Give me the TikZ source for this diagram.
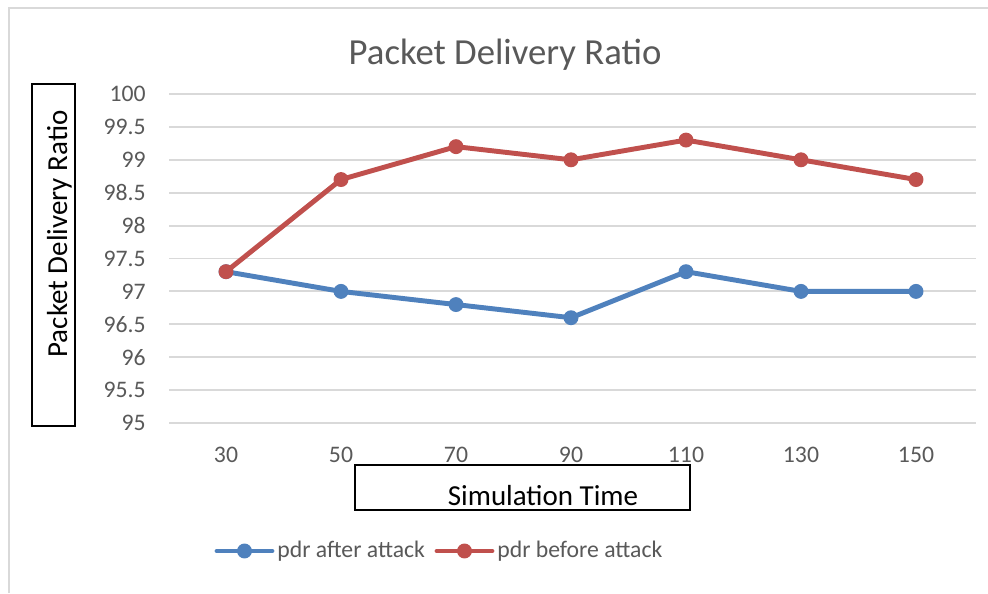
\documentclass[tikz,border=0pt]{standalone}
\usepackage{fontspec}
\setmainfont{Carlito}
\usepackage{tikz}
\usetikzlibrary{positioning}
\usetikzlibrary{calc}
\tikzstyle{dot}=[circle,inner sep=0pt,minimum size=8.5pt]
\tikzstyle{framebox}=[draw=black,line width=0.85pt]

\begin{document}
\begin{tikzpicture}[
  x=0.02cm,y=-0.02cm,
  grid line/.style={draw=light gray,line width=1.1pt},
  tick label/.style={text=dark gray,inner sep=0pt,font=\fontsize{13.5}{16}\selectfont},
  axis title/.style={inner sep=0pt,font=\fontsize{16.5}{20}\selectfont},
  series/.style={line width=2.8pt,line join=round},
  legend line/.style={line width=2.8pt,line cap=round},
]
  \definecolor{light gray}{HTML}{D9D9D9}
  \definecolor{dark gray}{HTML}{595959}
  \definecolor{pdr blue}{HTML}{4F81BD}
  \definecolor{pdr red}{HTML}{C0504D}
  \fill[white] (0,0) rectangle (988,593);
  \useasboundingbox (0,0) rectangle (988,593);
  % chart area border
  \draw[light gray,line width=0.8pt] (9,593) -- (9,8) -- (988,8);

  \node[text=dark gray,anchor=base,inner sep=0pt,font=\fontsize{20.9}{25}\selectfont] (title) at (505,64) {Packet Delivery Ratio};

  % grid and value axis
  \foreach \v [count=\i from 0] in {100,99.5,99,98.5,98,97.5,97,96.5,96,95.5,95} {
    \draw[grid line] (169,{94+\i*32.9}) -- (976,{94+\i*32.9});
    \node[tick label,anchor=east] (yt\i) at (146,{94+\i*32.9}) {\v};
  }
  \foreach \t [count=\i] in {30,50,70,90,110,130,150}
    \node[tick label,anchor=base] (xt\i) at ({111+115*\i},462) {\t};

  % data points
  \foreach \v [count=\i] in {97.3,97,96.8,96.6,97.3,97,97}
    \coordinate (a\i) at ({111+115*\i},{94+(100-\v)*65.8});
  \foreach \v [count=\i] in {97.3,98.7,99.2,99,99.3,99,98.7}
    \coordinate (b\i) at ({111+115*\i},{94+(100-\v)*65.8});

  \draw[series,pdr blue] (a1) -- (a2) -- (a3) -- (a4) -- (a5) -- (a6) -- (a7);
  \foreach \i in {1,...,7}
    \node[dot,fill=pdr blue] (pa\i) at (a\i) {};
  \draw[series,pdr red] (b1) -- (b2) -- (b3) -- (b4) -- (b5) -- (b6) -- (b7);
  \foreach \i in {1,...,7}
    \node[dot,fill=pdr red] (pb\i) at (b\i) {};

  % axis titles
  \draw[framebox] (32,84) rectangle (75,426);
  \node[axis title,rotate=90,anchor=base] (ylabel) at (67,234) {Packet Delivery Ratio};
  \draw[framebox] (355,465) rectangle (690,510);
  \node[axis title,anchor=base] (xlabel) at (543,505) {Simulation Time};

  % legend
  \coordinate (la1) at (217,551);
  \coordinate (la2) at (272,551);
  \draw[legend line,pdr blue] (la1) -- (la2);
  \node[dot,fill=pdr blue] (ladot) at ($(la1)!.5!(la2)$) {};
  \node[tick label,anchor=base west] (latext) at (277,557) {pdr after attack};
  \coordinate (lb1) at (437,551);
  \coordinate (lb2) at (492,551);
  \draw[legend line,pdr red] (lb1) -- (lb2);
  \node[dot,fill=pdr red] (lbdot) at ($(lb1)!.5!(lb2)$) {};
  \node[tick label,anchor=base west] (lbtext) at (497,557) {pdr before attack};
\end{tikzpicture}
\end{document}
